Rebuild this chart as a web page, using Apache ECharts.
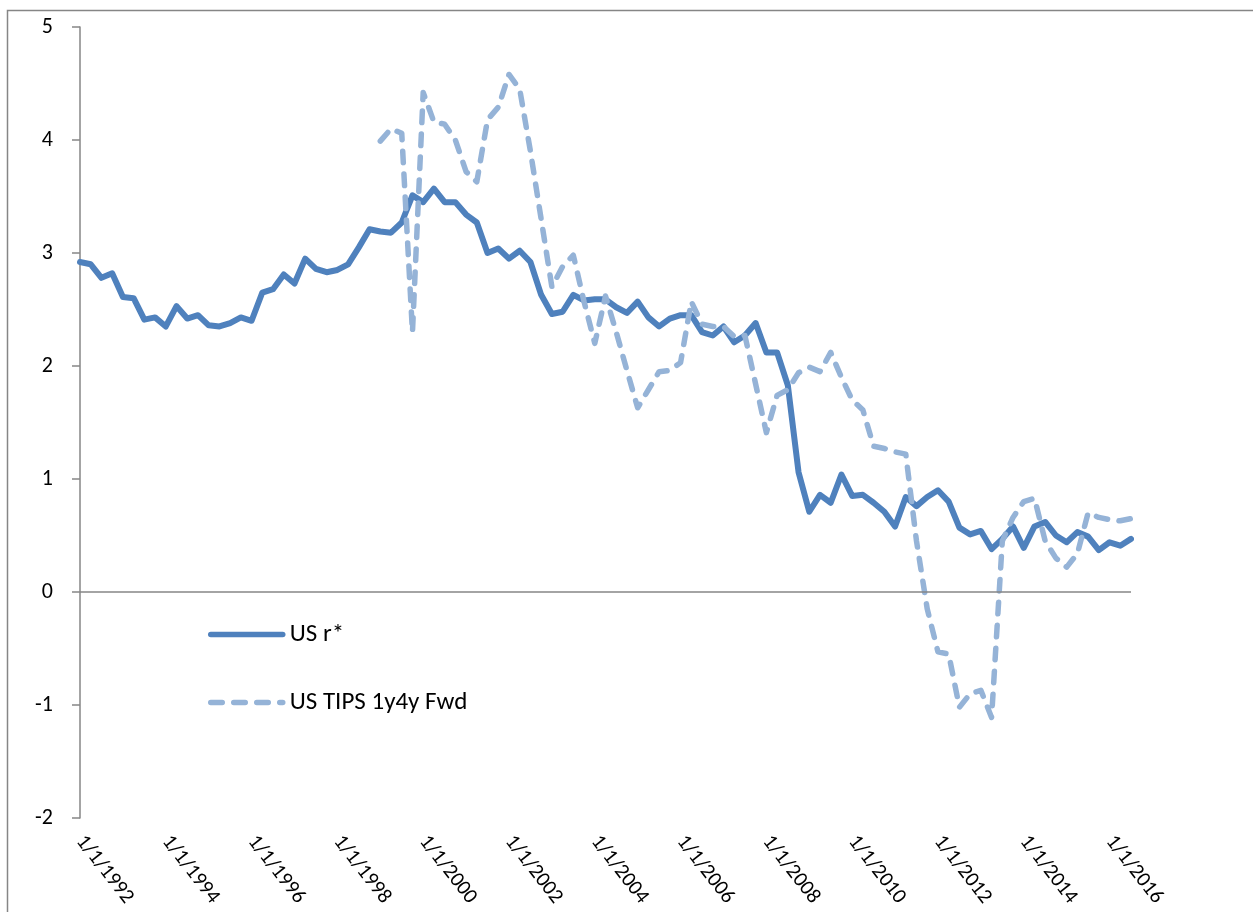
<!DOCTYPE html>
<html>
<head>
<meta charset="utf-8">
<title>US r* vs TIPS 1y4y Fwd</title>
<script src="https://cdn.jsdelivr.net/npm/echarts@6/dist/echarts.min.js"></script>
<style>
  html, body { margin: 0; padding: 0; background: #fff; }
  #chart { width: 1253px; height: 912px; }
</style>
</head>
<body>
<div id="chart"></div>
<script>
// quarterly, 1992Q1 .. 2016Q3
const firstYear = 1992;
const quarterCount = 99;
const quarters = [];
for (let i = 0; i < quarterCount; i++) {
  const y = firstYear + Math.floor(i / 4);
  const m = [1, 4, 7, 10][i % 4];
  quarters.push(m + '/1/' + y);
}

const rStar = [
  2.92, 2.90, 2.78, 2.82, 2.61, 2.60, 2.41, 2.43, 2.35, 2.53,
  2.42, 2.45, 2.36, 2.35, 2.38, 2.43, 2.40, 2.65, 2.68, 2.81,
  2.73, 2.95, 2.86, 2.83, 2.85, 2.90, 3.05, 3.21, 3.19, 3.18,
  3.27, 3.51, 3.45, 3.57, 3.45, 3.45, 3.34, 3.27, 3.00, 3.04,
  2.95, 3.02, 2.92, 2.63, 2.46, 2.48, 2.63, 2.58, 2.59, 2.59,
  2.52, 2.47, 2.57, 2.43, 2.35, 2.42, 2.45, 2.45, 2.30, 2.27,
  2.35, 2.21, 2.27, 2.38, 2.12, 2.12, 1.83, 1.06, 0.71, 0.86,
  0.79, 1.04, 0.85, 0.86, 0.79, 0.71, 0.58, 0.84, 0.76, 0.84,
  0.90, 0.80, 0.57, 0.51, 0.54, 0.38, 0.47, 0.58, 0.39, 0.58,
  0.62, 0.50, 0.44, 0.53, 0.49, 0.37, 0.44, 0.41, 0.47
];

// TIPS series starts 1/1/1999
const tipsStartIndex = 28;
const tipsFwd = [
  3.99, 4.10, 4.06, 2.30, 4.42, 4.16, 4.14, 4.00, 3.72, 3.63,
  4.18, 4.29, 4.58, 4.45, 3.90, 3.30, 2.70, 2.88, 2.98, 2.57,
  2.20, 2.62, 2.30, 1.96, 1.63, 1.79, 1.95, 1.96, 2.03, 2.57,
  2.37, 2.35, 2.35, 2.26, 2.27, 1.84, 1.41, 1.74, 1.79, 1.94,
  1.99, 1.95, 2.12, 1.90, 1.70, 1.61, 1.29, 1.27, 1.24, 1.22,
  0.45, -0.15, -0.53, -0.55, -1.02, -0.90, -0.87, -1.11, 0.45, 0.66,
  0.80, 0.83, 0.45, 0.30, 0.22, 0.34, 0.70, 0.66, 0.64, 0.63,
  0.65
];

const yTicks = [-2, -1, 0, 1, 2, 3, 4, 5];

const tipsData = new Array(tipsStartIndex).fill(null).concat(tipsFwd);

const axisGrey = '#868686';
const fontFamily = 'Carlito, Calibri, Lato, sans-serif';

const chart = echarts.init(document.getElementById('chart'));

chart.setOption({
  animation: false,
  backgroundColor: '#fff',
  textStyle: { fontFamily: fontFamily },
  grid: { left: 80, right: 122, top: 27, bottom: 94, containLabel: false },
  graphic: [
    {
      // outer chart frame
      type: 'rect',
      silent: true,
      shape: { x: 7.5, y: 10.5, width: 1400, height: 1100 },
      style: { fill: 'none', stroke: axisGrey, lineWidth: 1.5 }
    }
  ],
  legend: {
    orient: 'vertical',
    left: 208,
    top: 622,
    padding: 0,
    itemWidth: 72,
    itemHeight: 20,
    itemGap: 43,
    itemStyle: { opacity: 0 },
    lineStyle: { width: 5.5, cap: 'round' },
    textStyle: { fontSize: 25, lineHeight: 20, padding: [0, 0, 0, 2], color: '#000', fontFamily: fontFamily },
    data: ['US r*', 'US TIPS 1y4y Fwd']
  },
  xAxis: {
    type: 'category',
    data: quarters,
    boundaryGap: false,
    axisLine: { show: false, onZero: false },
    axisTick: { show: false },
    axisLabel: {
      interval: 7,
      rotate: -52,
      margin: 20,
      fontSize: 21,
      color: '#000',
      fontFamily: fontFamily
    },
    splitLine: { show: false }
  },
  yAxis: {
    type: 'value',
    min: yTicks[0],
    max: yTicks[yTicks.length - 1],
    interval: 1,
    axisLine: { show: true, lineStyle: { color: axisGrey, width: 1.5 } },
    axisTick: { show: true, inside: false, length: 8, lineStyle: { color: axisGrey, width: 1.5 } },
    axisLabel: { margin: 27, fontSize: 22, color: '#000', fontFamily: fontFamily },
    splitLine: { show: false }
  },
  series: [
    {
      name: 'US r*',
      type: 'line',
      data: rStar,
      showSymbol: false,
      symbol: 'none',
      lineStyle: { color: '#4F81BD', width: 6, join: 'round', cap: 'round' },
      itemStyle: { color: '#4F81BD' },
      z: 3,
      markLine: {
        // horizontal axis line at zero
        silent: true,
        symbol: 'none',
        label: { show: false },
        lineStyle: { color: axisGrey, width: 1.5, type: 'solid' },
        data: [{ yAxis: 0 }]
      }
    },
    {
      name: 'US TIPS 1y4y Fwd',
      type: 'line',
      data: tipsData,
      showSymbol: false,
      symbol: 'none',
      connectNulls: false,
      lineStyle: { color: '#95B3D7', width: 5.5, type: [11.5, 11.5], cap: 'round', join: 'round' },
      itemStyle: { color: '#95B3D7' },
      z: 4
    }
  ]
});
</script>
</body>
</html>
